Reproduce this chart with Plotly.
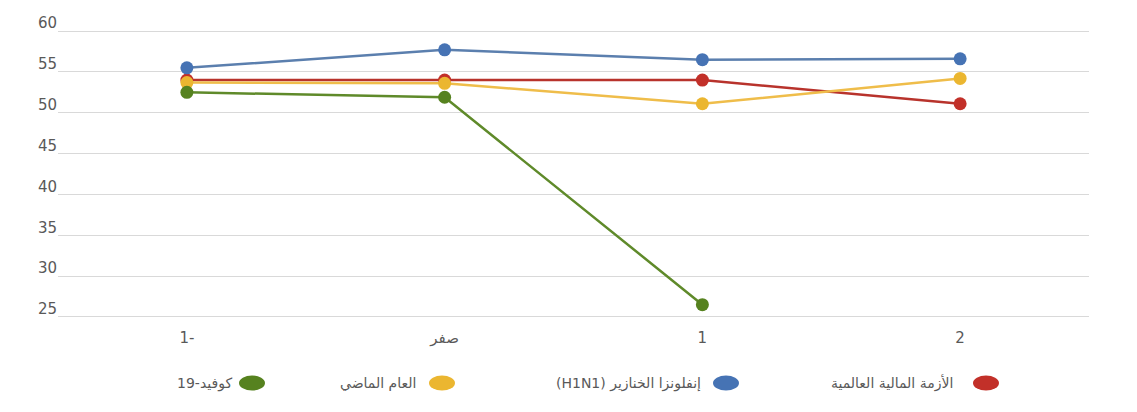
import plotly.graph_objects as go

# Categories on the x axis (period relative to the event)
categories = ["-1", "0", "1", "2"]
tick_labels = ["1-", "صفر", "1", "2"]

# Series values
financial_crisis = [54.0, 54.0, 54.0, 51.1]   # الأزمة المالية العالمية
swine_flu = [55.5, 57.7, 56.5, 56.6]          # إنفلونزا الخنازير (H1N1)
last_year = [53.7, 53.6, 51.1, 54.2]          # العام الماضي
covid19 = [52.5, 51.9, 26.5, None]            # كوفيد-19

series_names = [
    "الأزمة المالية العالمية",
    "(H1N1) إنفلونزا الخنازير",
    "العام الماضي",
    "كوفيد-19",
]
series_values = [financial_crisis, swine_flu, last_year, covid19]
line_colors = ["#b8332c", "#5b7fae", "#efbd4a", "#5f8a2a"]
marker_colors = ["#c23029", "#4673b4", "#ebb630", "#56821f"]

y_ticks = [25, 30, 35, 40, 45, 50, 55, 60]

fig = go.Figure()
for name, vals, lc, mc in zip(series_names, series_values, line_colors, marker_colors):
    fig.add_trace(go.Scatter(
        x=categories, y=vals, name=name, mode="lines+markers",
        line=dict(color=lc, width=2.5),
        marker=dict(color=mc, size=13),
        connectgaps=False, showlegend=False,
    ))

# Right-to-left legend: swatch on the right of each label
W, H = 1137, 412
ml, mr, mt, mb = 58, 48, 27, 91
pw, ph = W - ml - mr, H - mt - mb
legend_y_px = 383
legend_items = [  # (series index, swatch centre px, label right edge px)
    (3, 252, 234),
    (2, 442, 418),
    (1, 726, 703),
    (0, 986, 955),
]
shapes, annotations = [], []
yp = (H - mb - legend_y_px) / ph
for idx, cx, tx in legend_items:
    xp = (cx - ml) / pw
    shapes.append(dict(
        type="circle", xref="paper", yref="paper",
        xsizemode="pixel", ysizemode="pixel",
        xanchor=xp, yanchor=yp, x0=-13, x1=13, y0=-7.5, y1=7.5,
        fillcolor=marker_colors[idx], line=dict(width=0),
    ))
    annotations.append(dict(
        text=series_names[idx], xref="paper", yref="paper",
        x=(tx - ml) / pw, y=yp, xanchor="right", yanchor="middle",
        showarrow=False, font=dict(size=14, color="#595959"),
    ))

fig.update_layout(
    width=W, height=H,
    margin=dict(l=ml, r=mr, t=mt, b=mb),
    paper_bgcolor="white", plot_bgcolor="white",
    font=dict(family="DejaVu Sans", size=14, color="#595959"),
    shapes=shapes, annotations=annotations,
    xaxis=dict(
        type="category", categoryorder="array", categoryarray=categories,
        tickvals=categories, ticktext=tick_labels,
        range=[-0.5, 3.5], showgrid=False, zeroline=False, showline=False,
        ticks="", ticklabelstandoff=6, tickfont=dict(size=15, color="#595959"),
    ),
    yaxis=dict(
        range=[24.5, 60.5], tickvals=y_ticks, showgrid=True,
        gridcolor="#d9d9d9", gridwidth=1, zeroline=False, showline=False,
        ticks="", ticklabelshift=-8, tickfont=dict(size=15, color="#595959"),
    ),
)

fig.write_html("out.html")
